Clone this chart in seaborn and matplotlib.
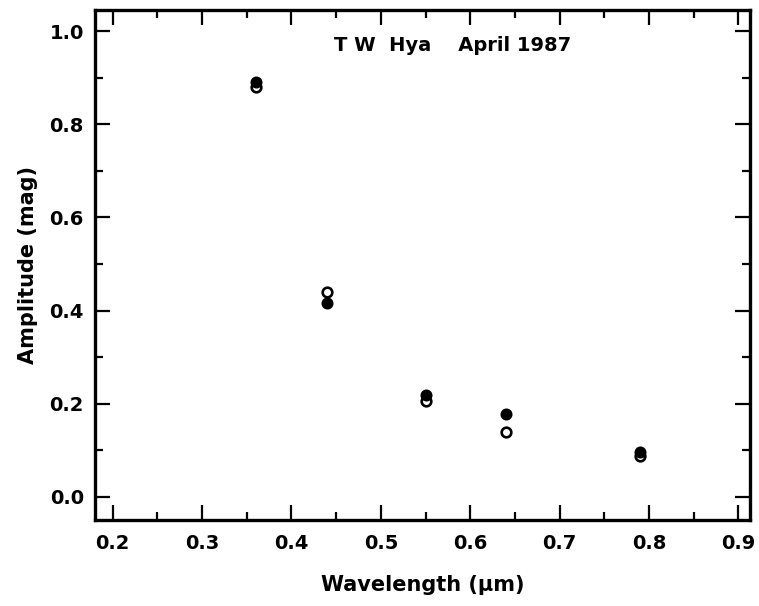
import matplotlib
matplotlib.use("Agg")
import matplotlib.pyplot as plt
import numpy as np
import pandas as pd
import seaborn as sns
from matplotlib.ticker import MultipleLocator

# TW Hya, April 1987: amplitude per band (U, B, V, R, I)
wavelength = [0.36, 0.44, 0.55, 0.64, 0.79]
amp_filled = [0.890, 0.416, 0.218, 0.178, 0.095]
amp_open = [0.880, 0.440, 0.205, 0.139, 0.088]

x_ticks = [0.2, 0.3, 0.4, 0.5, 0.6, 0.7, 0.8, 0.9]
y_ticks = [0.0, 0.2, 0.4, 0.6, 0.8, 1.0]
y_tick_labels = ["0.0", "0.2", "0.4", "0.6", "0.8", "1.0"]

df = pd.DataFrame(
    {
        "wavelength": wavelength * 2,
        "amplitude": amp_filled + amp_open,
        "kind": ["filled"] * len(wavelength) + ["open"] * len(wavelength),
    }
)

sns.set_style("ticks")
plt.rcParams["font.family"] = ["DejaVu Sans"]
plt.rcParams["font.weight"] = "bold"
plt.rcParams["text.color"] = "black"
plt.rcParams["axes.labelcolor"] = "black"

fig = plt.figure(figsize=(7.59, 6.06), dpi=100)
ax = fig.add_axes([0.125, 0.142, 0.863, 0.841])

sns.scatterplot(
    data=df[df["kind"] == "open"], x="wavelength", y="amplitude",
    marker="o", s=48, facecolor="white", edgecolor="black", linewidth=1.9,
    ax=ax, zorder=3,
)
sns.scatterplot(
    data=df[df["kind"] == "filled"], x="wavelength", y="amplitude",
    marker="o", s=75, color="black", edgecolor="black", linewidth=0,
    ax=ax, zorder=4,
)

ax.set_xlim(0.18, 0.913)
ax.set_ylim(-0.05, 1.045)
ax.set_xticks(x_ticks)
ax.set_xticklabels([f"{v:.1f}" for v in x_ticks])
ax.set_yticks(y_ticks)
ax.set_yticklabels(y_tick_labels)
ax.xaxis.set_minor_locator(MultipleLocator(0.05))
ax.yaxis.set_minor_locator(MultipleLocator(0.1))

ax.tick_params(which="both", direction="in", top=True, right=True, width=1.6,
               colors="black", labelcolor="black")
ax.tick_params(which="major", length=11, labelsize=14, pad=8)
ax.tick_params(axis="x", which="major", pad=10)
ax.tick_params(which="minor", length=6)
for lab in ax.get_xticklabels() + ax.get_yticklabels():
    lab.set_fontweight("bold")
for sp in ax.spines.values():
    sp.set_linewidth(2.4)
    sp.set_color("black")

ax.set_xlabel("Wavelength (\u03bcm)", fontsize=15, fontweight="bold", labelpad=16, color="black")
ax.set_ylabel("Amplitude (mag)", fontsize=15, fontweight="bold", labelpad=8, color="black")

ax.text(0.58, 0.97, "T W  Hya    April 1987", fontsize=14, fontweight="bold",
        ha="center", va="center", color="black")

fig.savefig("out.png", dpi=100)
plt.close(fig)
